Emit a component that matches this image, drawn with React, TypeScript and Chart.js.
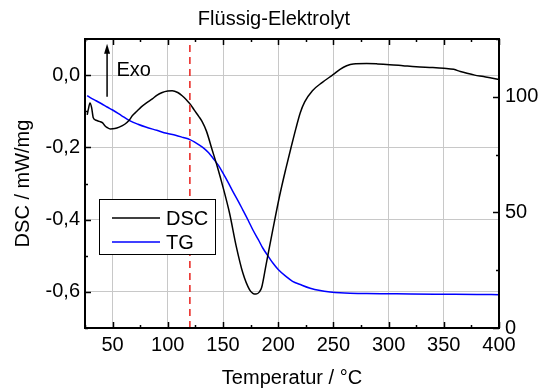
import React, { useEffect, useRef } from 'react';
import { Chart, registerables } from 'chart.js';

Chart.register(...registerables);

// DSC curve (left axis, mW/mg)
const dscTemp = [27, 28, 29.5, 31, 32.5, 35, 38, 41, 43, 45, 48, 52, 56, 61, 65, 68, 72, 76, 81, 86, 90, 95, 100, 104, 109, 113, 117, 121, 124, 128, 131, 135, 140, 145, 150, 156, 162, 168, 174, 177, 180, 183, 185, 189, 195, 201, 207, 212, 216, 220, 224, 231, 240, 250, 256, 262, 268, 280, 290, 301, 313, 325, 340, 350, 359, 365, 371, 378, 386, 393, 400];
const dscValues = [-0.11, -0.095, -0.077, -0.09, -0.118, -0.125, -0.128, -0.132, -0.14, -0.145, -0.149, -0.148, -0.144, -0.136, -0.125, -0.112, -0.1, -0.088, -0.076, -0.066, -0.056, -0.048, -0.044, -0.043, -0.048, -0.057, -0.069, -0.083, -0.097, -0.114, -0.128, -0.155, -0.205, -0.255, -0.31, -0.383, -0.474, -0.548, -0.594, -0.604, -0.606, -0.6, -0.588, -0.525, -0.43, -0.338, -0.258, -0.196, -0.148, -0.104, -0.074, -0.043, -0.02, 0.002, 0.016, 0.026, 0.031, 0.032, 0.031, 0.029, 0.026, 0.023, 0.021, 0.019, 0.016, 0.01, 0.005, 0.0, -0.004, -0.008, -0.012];

// TG curve (right axis, %)
const tgTemp = [27, 29, 35, 40, 45, 50, 58, 65, 73, 80, 90, 99, 107, 114, 120, 124, 129, 133, 137, 141, 146, 150, 155, 159, 164, 168, 173, 177, 182, 186, 191, 195, 200, 207, 213, 220, 229, 238, 247, 256, 265, 280, 300, 320, 350, 380, 400];
const tgValues = [100.5, 99.9, 98.3, 97.0, 95.6, 94.3, 91.9, 89.8, 88.1, 86.9, 85.5, 84.2, 83.4, 82.4, 81.5, 80.5, 79.0, 77.6, 75.8, 73.4, 70.2, 67.0, 62.7, 59.0, 54.7, 51.0, 46.4, 42.5, 38.2, 34.6, 31.0, 28.2, 25.3, 22.3, 20.2, 18.8, 17.2, 16.2, 15.6, 15.2, 15.0, 14.9, 14.8, 14.7, 14.6, 14.5, 14.4];

// marker line
const markerTemp = [120, 120];
const markerValues = [-0.7, 0.1];

// tick labels
const xTicks = [50, 100, 150, 200, 250, 300, 350, 400];
const dscTicks = [-0.6, -0.4, -0.2, 0.0];
const tgTicks = [0, 50, 100];

const seriesNames = ['DSC', 'TG'];
const seriesColors = ['#000000', '#0000ff'];

const FONT = "'Liberation Sans', Arial, sans-serif";

const decorPlugin = {
  id: 'decor',
  afterDraw(chart: any) {
    const { ctx, chartArea, scales } = chart;
    const { left, right, top, bottom } = chartArea;
    const x = scales.x;
    const y = scales.y;
    const y2 = scales.y2;
    ctx.save();
    ctx.strokeStyle = '#000';
    ctx.lineWidth = 1.5;
    const seg = (x1: number, y1: number, x2: number, y2p: number) => {
      ctx.beginPath();
      ctx.moveTo(x1, y1);
      ctx.lineTo(x2, y2p);
      ctx.stroke();
    };
    // x ticks (bottom and top, inward)
    for (let t = 25; t <= 400; t += 25) {
      const px = Math.round(x.getPixelForValue(t)) + 0.5;
      const len = t % 50 === 0 ? 6 : 3;
      seg(px, bottom, px, bottom - len);
      seg(px, top, px, top + len);
    }
    // left ticks
    for (let i = -7; i <= 1; i++) {
      const v = i / 10;
      const py = Math.round(y.getPixelForValue(v)) + 0.5;
      const len = i % 2 === 0 ? 6 : 3;
      seg(left, py, left + len, py);
    }
    // right ticks
    for (let v = 0; v <= 125; v += 25) {
      const py = Math.round(y2.getPixelForValue(v)) + 0.5;
      const len = v % 50 === 0 ? 6 : 3;
      seg(right, py, right - len, py);
    }
    // frame
    ctx.lineWidth = 2;
    ctx.strokeRect(left, top, right - left, bottom - top);

    // Exo arrow
    const ax = x.getPixelForValue(45);
    const ay1 = y.getPixelForValue(-0.06);
    const ay2 = y.getPixelForValue(0.087);
    ctx.lineWidth = 1.5;
    seg(ax, ay1, ax, ay2 + 6);
    ctx.fillStyle = '#000';
    ctx.beginPath();
    ctx.moveTo(ax, ay2);
    ctx.lineTo(ax - 3, ay2 + 10);
    ctx.lineTo(ax + 3, ay2 + 10);
    ctx.closePath();
    ctx.fill();
    ctx.font = `20px ${FONT}`;
    ctx.textBaseline = 'middle';
    ctx.textAlign = 'left';
    ctx.fillText('Exo', x.getPixelForValue(53.5), y.getPixelForValue(0.014));

    // legend box
    const bx1 = left + 14;
    const by1 = top + 160;
    const bw = 116;
    const bh = 55;
    ctx.fillStyle = '#fff';
    ctx.fillRect(bx1, by1, bw, bh);
    ctx.lineWidth = 1;
    ctx.strokeStyle = '#000';
    ctx.strokeRect(bx1 + 0.5, by1 + 0.5, bw, bh);
    const rows = [by1 + 19, by1 + 43];
    seriesNames.forEach((name, i) => {
      ctx.strokeStyle = seriesColors[i];
      ctx.lineWidth = 1.5;
      seg(bx1 + 13, rows[i], bx1 + 61, rows[i]);
      ctx.fillStyle = '#000';
      ctx.fillText(name, bx1 + 67, rows[i] + 1);
    });
    ctx.restore();
  },
};

export default function App() {
  const ref = useRef<HTMLCanvasElement>(null);
  useEffect(() => {
    document.body.style.margin = '0';
    const canvas = ref.current!;
    const tickFont = { family: FONT, size: 20 };
    const chart = new Chart(canvas, {
      type: 'line',
      data: {
        datasets: [
          {
            label: 'marker',
            data: markerTemp.map((t, i) => ({ x: t, y: markerValues[i] })),
            borderColor: '#e8201c',
            borderWidth: 1.5,
            borderDash: [7, 5],
            pointRadius: 0,
            yAxisID: 'y',
          },
          {
            label: seriesNames[0],
            data: dscTemp.map((t, i) => ({ x: t, y: dscValues[i] })),
            borderColor: seriesColors[0],
            borderWidth: 1.5,
            pointRadius: 0,
            cubicInterpolationMode: 'monotone',
            yAxisID: 'y',
          },
          {
            label: seriesNames[1],
            data: tgTemp.map((t, i) => ({ x: t, y: tgValues[i] })),
            borderColor: seriesColors[1],
            borderWidth: 1.5,
            pointRadius: 0,
            cubicInterpolationMode: 'monotone',
            yAxisID: 'y2',
          },
        ],
      },
      options: {
        animation: false,
        responsive: false,
        devicePixelRatio: 1,
        layout: { padding: 0 },
        plugins: {
          legend: { display: false },
          tooltip: { enabled: false },
          title: {
            display: true,
            text: 'Flüssig-Elektrolyt',
            color: '#000',
            font: { family: FONT, size: 20, weight: 'normal' },
            padding: { top: 7, bottom: 8 },
          },
        },
        scales: {
          x: {
            type: 'linear',
            position: 'bottom',
            min: 25,
            max: 400,
            afterBuildTicks: (s: any) => {
              s.ticks = xTicks.map((v) => ({ value: v }));
            },
            afterFit: (s: any) => {
              s.height = 64;
            },
            grid: { color: '#c8c8c8', lineWidth: 1, drawTicks: false },
            border: { display: false },
            ticks: { color: '#000', font: tickFont, padding: 5, maxRotation: 0, autoSkip: false },
            title: {
              display: true,
              text: 'Temperatur / °C',
              color: '#000',
              font: tickFont,
              padding: { top: 0, bottom: 2 },
            },
          },
          y: {
            type: 'linear',
            position: 'left',
            min: -0.7,
            max: 0.1,
            afterBuildTicks: (s: any) => {
              s.ticks = dscTicks.map((v) => ({ value: v }));
            },
            afterFit: (s: any) => {
              s.width = 85;
            },
            grid: { color: '#c8c8c8', lineWidth: 1, drawTicks: false },
            border: { display: false },
            ticks: {
              color: '#000',
              font: tickFont,
              padding: 5,
              callback: (v: any) => Number(v).toFixed(1).replace('.', ','),
            },
            title: {
              display: true,
              text: 'DSC / mW/mg',
              color: '#000',
              font: tickFont,
              padding: { top: 11, bottom: 0 },
            },
          },
          y2: {
            type: 'linear',
            position: 'right',
            min: 0,
            max: 125,
            afterBuildTicks: (s: any) => {
              s.ticks = tgTicks.map((v) => ({ value: v }));
            },
            afterFit: (s: any) => {
              s.width = 49;
            },
            grid: { display: false, drawTicks: false },
            border: { display: false },
            ticks: { color: '#000', font: tickFont, padding: 6 },
          },
        },
      },
      plugins: [decorPlugin],
    });
    return () => chart.destroy();
  }, []);
  return <canvas ref={ref} width={548} height={392} />;
}
